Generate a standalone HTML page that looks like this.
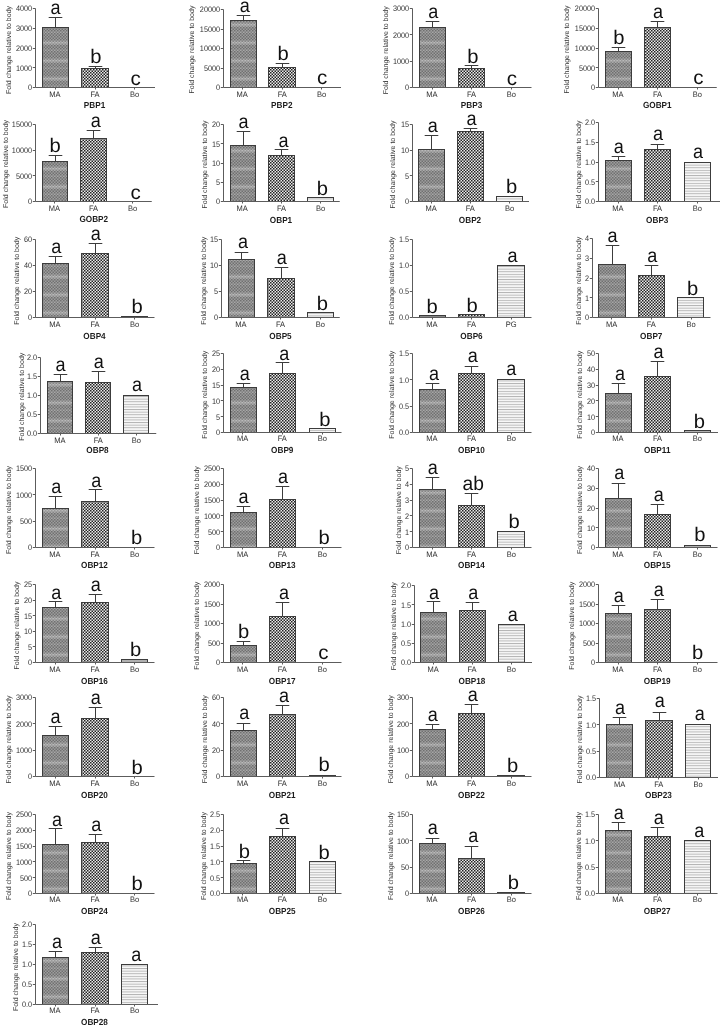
<!DOCTYPE html>
<html lang="en"><head><meta charset="utf-8"><title>OBP expression</title>
<style>html,body{margin:0;padding:0;background:#fff}svg{display:block}text{font-family:"Liberation Sans",Arial,Helvetica,sans-serif;text-rendering:geometricPrecision}.t{font-size:8.0px;fill:#303030;text-anchor:end}.x{font-size:7.9px;fill:#303030;text-anchor:middle}.n{font-size:8.8px;fill:#1c1c1c;text-anchor:middle;font-weight:bold}.y{font-size:7.0px;fill:#303030;text-anchor:middle}.L{font-size:19.6px;fill:#111;text-anchor:middle}.a{stroke:#5c5c5c;stroke-width:1;fill:none}.e{stroke:#3c3c3c;stroke-width:1;fill:none}.m{fill:url(#pm);stroke:#3c3c3c;stroke-width:1}.f{fill:url(#pf);stroke:#3c3c3c;stroke-width:1}.b{fill:url(#pb);stroke:#3c3c3c;stroke-width:1}</style></head><body>
<svg width="724" height="1027" viewBox="0 0 724 1027">
<defs><pattern id="pm" width="3" height="18" patternUnits="userSpaceOnUse"><rect width="3" height="18" fill="#9e9e9e"/><rect x="0.0" y="0.0" width="1.5" height="1.5" fill="#707070"/><rect x="1.5" y="1.5" width="1.5" height="1.5" fill="#707070"/><rect x="0.0" y="3.0" width="1.5" height="1.5" fill="#707070"/><rect x="1.5" y="4.5" width="1.5" height="1.5" fill="#707070"/><rect x="0.0" y="6.0" width="1.5" height="1.5" fill="#707070"/><rect x="1.5" y="7.5" width="1.5" height="1.5" fill="#707070"/><rect x="0.0" y="9.0" width="1.5" height="1.5" fill="#707070"/><rect x="1.5" y="10.5" width="1.5" height="1.5" fill="#707070"/><rect x="0.0" y="12.0" width="1.5" height="1.5" fill="#707070"/><rect x="1.5" y="13.5" width="1.5" height="1.5" fill="#707070"/><rect x="0.0" y="15.0" width="1.5" height="1.5" fill="#707070"/><rect x="1.5" y="16.5" width="1.5" height="1.5" fill="#707070"/><rect y="4.5" width="3" height="1.5" fill="#fff" opacity=".15"/><rect y="6" width="3" height="1.5" fill="#fff" opacity=".3"/><rect y="7.5" width="3" height="1.5" fill="#fff" opacity=".15"/><rect y="13.5" width="3" height="1.5" fill="#fff" opacity=".1"/></pattern><pattern id="pf" width="3" height="3" patternUnits="userSpaceOnUse"><rect width="3" height="3" fill="#ebebeb"/><rect width="1.5" height="1.5" fill="#222"/><rect x="1.5" y="1.5" width="1.5" height="1.5" fill="#222"/></pattern><pattern id="pb" width="2.6" height="2.6" patternUnits="userSpaceOnUse"><rect width="2.6" height="2.6" fill="#fff"/><rect y="0.8" width="2.6" height="1.1" fill="#b6b6b6"/></pattern></defs>
<rect width="724" height="1027" fill="#fff"/>
<g>
<path class="e" d="M55.5 27.5V17.5M48.7 17.5H62.3"/>
<rect class="m" x="42.5" y="27.5" width="26" height="60"/>
<path class="e" d="M95.5 68.5V66.5M88.7 66.5H102.3"/>
<rect class="f" x="81.5" y="68.5" width="27" height="19"/>
<path class="a" d="M35.5 8.5V87.5H155M32.8 8.5H35.5M32.8 28.5H35.5M32.8 48.5H35.5M32.8 67.5H35.5M32.8 87.5H35.5M55.5 87.5V89.5M95.5 87.5V89.5M134.5 87.5V89.5"/>
<text class="t" transform="translate(32.1 11.35) scale(0.91 1)">4000</text>
<text class="t" transform="translate(32.1 31.1) scale(0.91 1)">3000</text>
<text class="t" transform="translate(32.1 50.85) scale(0.91 1)">2000</text>
<text class="t" transform="translate(32.1 70.6) scale(0.91 1)">1000</text>
<text class="t" transform="translate(32.1 90.35) scale(0.91 1)">0</text>
<text class="x" transform="translate(55 96.95) scale(0.955 1)">MA</text>
<text class="x" transform="translate(95 96.95) scale(0.955 1)">FA</text>
<text class="x" transform="translate(134.5 96.95) scale(0.955 1)">Bo</text>
<text class="n" transform="translate(94.5 108.3) scale(0.93 1)">PBP1</text>
<text class="y" transform="translate(10.85 49.95) rotate(-90)">Fold change relative to body</text>
<text class="L" transform="translate(55.5 14) scale(0.92 1)">a</text>
<text class="L" transform="translate(95.75 63.25) scale(1.03 1)">b</text>
<text class="L" transform="translate(135.75 84.5) scale(1.05 1)">c</text>
</g>
<g>
<path class="e" d="M243.5 20.5V15.5M236.7 15.5H250.3"/>
<rect class="m" x="230.5" y="20.5" width="26" height="67"/>
<path class="e" d="M282.5 67.5V63.5M275.7 63.5H289.3"/>
<rect class="f" x="268.5" y="67.5" width="27" height="20"/>
<path class="a" d="M223.5 9.5V87.5H341M220.8 9.5H223.5M220.8 29.5H223.5M220.8 48.5H223.5M220.8 68.5H223.5M220.8 87.5H223.5M242.5 87.5V89.5M282.5 87.5V89.5M321.5 87.5V89.5"/>
<text class="t" transform="translate(220.1 12.35) scale(0.91 1)">20000</text>
<text class="t" transform="translate(220.1 31.85) scale(0.91 1)">15000</text>
<text class="t" transform="translate(220.1 51.35) scale(0.91 1)">10000</text>
<text class="t" transform="translate(220.1 70.85) scale(0.91 1)">5000</text>
<text class="t" transform="translate(220.1 90.35) scale(0.91 1)">0</text>
<text class="x" transform="translate(242.25 96.95) scale(0.955 1)">MA</text>
<text class="x" transform="translate(282.25 96.95) scale(0.955 1)">FA</text>
<text class="x" transform="translate(321.5 96.95) scale(0.955 1)">Bo</text>
<text class="n" transform="translate(281.75 108.3) scale(0.93 1)">PBP2</text>
<text class="y" transform="translate(194.35 49.6) rotate(-90)">Fold change relative to body</text>
<text class="L" transform="translate(244.75 11.5) scale(0.92 1)">a</text>
<text class="L" transform="translate(283 60.25) scale(1.03 1)">b</text>
<text class="L" transform="translate(322.25 84) scale(1.05 1)">c</text>
</g>
<g>
<path class="e" d="M432.5 27.5V21.5M425.7 21.5H439.3"/>
<rect class="m" x="419.5" y="27.5" width="26" height="60"/>
<path class="e" d="M471.5 68.5V65.5M464.7 65.5H478.3"/>
<rect class="f" x="458.5" y="68.5" width="26" height="19"/>
<path class="a" d="M412.5 8.5V87.5H531.5M409.8 8.5H412.5M409.8 34.5H412.5M409.8 61.5H412.5M409.8 87.5H412.5M432.5 87.5V89.5M471.5 87.5V89.5M511.5 87.5V89.5"/>
<text class="t" transform="translate(409.1 11.35) scale(0.91 1)">3000</text>
<text class="t" transform="translate(409.1 37.68) scale(0.91 1)">2000</text>
<text class="t" transform="translate(409.1 64.02) scale(0.91 1)">1000</text>
<text class="t" transform="translate(409.1 90.35) scale(0.91 1)">0</text>
<text class="x" transform="translate(432 96.95) scale(0.955 1)">MA</text>
<text class="x" transform="translate(471.5 96.95) scale(0.955 1)">FA</text>
<text class="x" transform="translate(511.25 96.95) scale(0.955 1)">Bo</text>
<text class="n" transform="translate(471.5 108.3) scale(0.93 1)">PBP3</text>
<text class="y" transform="translate(387.85 50.3) rotate(-90)">Fold change relative to body</text>
<text class="L" transform="translate(433.25 17.75) scale(0.92 1)">a</text>
<text class="L" transform="translate(472.75 62.75) scale(1.03 1)">b</text>
<text class="L" transform="translate(512 84.5) scale(1.05 1)">c</text>
</g>
<g>
<path class="e" d="M618.5 51.5V47.5M611.7 47.5H625.3"/>
<rect class="m" x="605.5" y="51.5" width="26" height="36"/>
<path class="e" d="M657.5 27.5V21.5M650.7 21.5H664.3"/>
<rect class="f" x="644.5" y="27.5" width="26" height="60"/>
<path class="a" d="M598.5 8.5V87.5H716.75M595.8 8.5H598.5M595.8 28.5H598.5M595.8 48.5H598.5M595.8 67.5H598.5M595.8 87.5H598.5M618.5 87.5V89.5M657.5 87.5V89.5M697.5 87.5V89.5"/>
<text class="t" transform="translate(595.1 11.35) scale(0.91 1)">20000</text>
<text class="t" transform="translate(595.1 31.1) scale(0.91 1)">15000</text>
<text class="t" transform="translate(595.1 50.85) scale(0.91 1)">10000</text>
<text class="t" transform="translate(595.1 70.6) scale(0.91 1)">5000</text>
<text class="t" transform="translate(595.1 90.35) scale(0.91 1)">0</text>
<text class="x" transform="translate(618 96.95) scale(0.955 1)">MA</text>
<text class="x" transform="translate(657.5 96.95) scale(0.955 1)">FA</text>
<text class="x" transform="translate(697.25 96.95) scale(0.955 1)">Bo</text>
<text class="n" transform="translate(657.25 108.3) scale(0.93 1)">GOBP1</text>
<text class="y" transform="translate(569.35 49.6) rotate(-90)">Fold change relative to body</text>
<text class="L" transform="translate(618.75 44) scale(1.03 1)">b</text>
<text class="L" transform="translate(658 18.25) scale(0.92 1)">a</text>
<text class="L" transform="translate(698.5 84) scale(1.05 1)">c</text>
</g>
<g>
<path class="e" d="M55.5 161.5V155.5M48.7 155.5H62.3"/>
<rect class="m" x="42.5" y="161.5" width="25" height="40"/>
<path class="e" d="M93.5 138.5V130.5M86.7 130.5H100.3"/>
<rect class="f" x="80.5" y="138.5" width="26" height="63"/>
<path class="a" d="M35.5 124.5V201.5H151.75M32.8 124.5H35.5M32.8 150.5H35.5M32.8 175.5H35.5M32.8 201.5H35.5M54.5 201.5V203.5M93.5 201.5V203.5M132.5 201.5V203.5"/>
<text class="t" transform="translate(32.1 127.35) scale(0.91 1)">15000</text>
<text class="t" transform="translate(32.1 153.02) scale(0.91 1)">10000</text>
<text class="t" transform="translate(32.1 178.68) scale(0.91 1)">5000</text>
<text class="t" transform="translate(32.1 204.35) scale(0.91 1)">0</text>
<text class="x" transform="translate(54.5 210.7) scale(0.955 1)">MA</text>
<text class="x" transform="translate(93.5 210.7) scale(0.955 1)">FA</text>
<text class="x" transform="translate(132.5 210.7) scale(0.955 1)">Bo</text>
<text class="n" transform="translate(93.75 222.3) scale(0.93 1)">GOBP2</text>
<text class="y" transform="translate(7.6 163.95) rotate(-90)">Fold change relative to body</text>
<text class="L" transform="translate(55 152) scale(1.03 1)">b</text>
<text class="L" transform="translate(95.75 127) scale(0.92 1)">a</text>
<text class="L" transform="translate(135.75 199) scale(1.05 1)">c</text>
</g>
<g>
<path class="e" d="M243.5 145.5V131.5M236.7 131.5H250.3"/>
<rect class="m" x="230.5" y="145.5" width="25" height="56"/>
<path class="e" d="M281.5 155.5V149.5M274.7 149.5H288.3"/>
<rect class="f" x="268.5" y="155.5" width="26" height="46"/>
<rect class="b" x="307.5" y="197.5" width="26" height="4"/>
<path class="a" d="M223.5 124.5V201.5H339.75M220.8 124.5H223.5M220.8 143.5H223.5M220.8 163.5H223.5M220.8 182.5H223.5M220.8 201.5H223.5M242.5 201.5V203.5M281.5 201.5V203.5M320.5 201.5V203.5"/>
<text class="t" transform="translate(220.1 127.35) scale(0.91 1)">20</text>
<text class="t" transform="translate(220.1 146.6) scale(0.91 1)">15</text>
<text class="t" transform="translate(220.1 165.85) scale(0.91 1)">10</text>
<text class="t" transform="translate(220.1 185.1) scale(0.91 1)">5</text>
<text class="t" transform="translate(220.1 204.35) scale(0.91 1)">0</text>
<text class="x" transform="translate(242.25 210.95) scale(0.955 1)">MA</text>
<text class="x" transform="translate(281.5 210.95) scale(0.955 1)">FA</text>
<text class="x" transform="translate(320.5 210.95) scale(0.955 1)">Bo</text>
<text class="n" transform="translate(281 222.8) scale(0.93 1)">OBP1</text>
<text class="y" transform="translate(206.85 164.6) rotate(-90)">Fold change relative to body</text>
<text class="L" transform="translate(243.5 127.75) scale(0.92 1)">a</text>
<text class="L" transform="translate(283.5 146.5) scale(0.92 1)">a</text>
<text class="L" transform="translate(322.25 195.25) scale(1.03 1)">b</text>
</g>
<g>
<path class="e" d="M431.5 149.5V135.5M424.7 135.5H438.3"/>
<rect class="m" x="418.5" y="149.5" width="26" height="52"/>
<path class="e" d="M470.5 131.5V128.5M463.7 128.5H477.3"/>
<rect class="f" x="457.5" y="131.5" width="26" height="70"/>
<rect class="b" x="496.5" y="196.5" width="26" height="5"/>
<path class="a" d="M412.5 124.5V201.5H529M409.8 124.5H412.5M409.8 150.5H412.5M409.8 175.5H412.5M409.8 201.5H412.5M431.5 201.5V203.5M470.5 201.5V203.5M509.5 201.5V203.5"/>
<text class="t" transform="translate(409.1 127.35) scale(0.91 1)">15</text>
<text class="t" transform="translate(409.1 153.02) scale(0.91 1)">10</text>
<text class="t" transform="translate(409.1 178.68) scale(0.91 1)">5</text>
<text class="t" transform="translate(409.1 204.35) scale(0.91 1)">0</text>
<text class="x" transform="translate(431.25 210.95) scale(0.955 1)">MA</text>
<text class="x" transform="translate(470.25 210.95) scale(0.955 1)">FA</text>
<text class="x" transform="translate(509.5 210.95) scale(0.955 1)">Bo</text>
<text class="n" transform="translate(470 222.8) scale(0.93 1)">OBP2</text>
<text class="y" transform="translate(395.35 164.6) rotate(-90)">Fold change relative to body</text>
<text class="L" transform="translate(432.75 132) scale(0.92 1)">a</text>
<text class="L" transform="translate(471.5 125.25) scale(0.92 1)">a</text>
<text class="L" transform="translate(511.5 193.25) scale(1.03 1)">b</text>
</g>
<g>
<path class="e" d="M618.5 160.5V156.5M611.7 156.5H625.3"/>
<rect class="m" x="605.5" y="160.5" width="26" height="41"/>
<path class="e" d="M657.5 149.5V144.5M650.7 144.5H664.3"/>
<rect class="f" x="644.5" y="149.5" width="26" height="52"/>
<rect class="b" x="684.5" y="162.5" width="26" height="39"/>
<path class="a" d="M598.5 122.5V201.5H720M595.8 122.5H598.5M595.8 142.5H598.5M595.8 162.5H598.5M595.8 181.5H598.5M595.8 201.5H598.5M618.5 201.5V203.5M657.5 201.5V203.5M697.5 201.5V203.5"/>
<text class="t" transform="translate(595.1 125.35) scale(0.91 1)">2.0</text>
<text class="t" transform="translate(595.1 145.1) scale(0.91 1)">1.5</text>
<text class="t" transform="translate(595.1 164.85) scale(0.91 1)">1.0</text>
<text class="t" transform="translate(595.1 184.6) scale(0.91 1)">0.5</text>
<text class="t" transform="translate(595.1 204.35) scale(0.91 1)">0.0</text>
<text class="x" transform="translate(618 210.7) scale(0.955 1)">MA</text>
<text class="x" transform="translate(657.5 210.7) scale(0.955 1)">FA</text>
<text class="x" transform="translate(697.25 210.7) scale(0.955 1)">Bo</text>
<text class="n" transform="translate(657.25 222.8) scale(0.93 1)">OBP3</text>
<text class="y" transform="translate(580.6 164.6) rotate(-90)">Fold change relative to body</text>
<text class="L" transform="translate(618.75 153.25) scale(0.92 1)">a</text>
<text class="L" transform="translate(658 140.25) scale(0.92 1)">a</text>
<text class="L" transform="translate(698 158.25) scale(0.92 1)">a</text>
</g>
<g>
<path class="e" d="M55.5 263.5V256.5M48.7 256.5H62.3"/>
<rect class="m" x="42.5" y="263.5" width="26" height="54"/>
<path class="e" d="M95.5 253.5V243.5M88.7 243.5H102.3"/>
<rect class="f" x="81.5" y="253.5" width="27" height="64"/>
<rect class="b" style="fill:#b0b0b0" x="121.5" y="316.5" width="26" height="1"/>
<path class="a" d="M35.5 239.5V317.5H154.5M32.8 239.5H35.5M32.8 265.5H35.5M32.8 291.5H35.5M32.8 317.5H35.5M55.5 317.5V319.5M95.5 317.5V319.5M134.5 317.5V319.5"/>
<text class="t" transform="translate(32.1 242.35) scale(0.91 1)">60</text>
<text class="t" transform="translate(32.1 268.35) scale(0.91 1)">40</text>
<text class="t" transform="translate(32.1 294.35) scale(0.91 1)">20</text>
<text class="t" transform="translate(32.1 320.35) scale(0.91 1)">0</text>
<text class="x" transform="translate(55 326.95) scale(0.955 1)">MA</text>
<text class="x" transform="translate(95 326.95) scale(0.955 1)">FA</text>
<text class="x" transform="translate(134.5 326.95) scale(0.955 1)">Bo</text>
<text class="n" transform="translate(94.5 338.8) scale(0.93 1)">OBP4</text>
<text class="y" transform="translate(19.1 280.8) rotate(-90)">Fold change relative to body</text>
<text class="L" transform="translate(56.25 252.75) scale(0.92 1)">a</text>
<text class="L" transform="translate(95.75 239.5) scale(0.92 1)">a</text>
<text class="L" transform="translate(137 313.25) scale(1.03 1)">b</text>
</g>
<g>
<path class="e" d="M241.5 259.5V252.5M234.7 252.5H248.3"/>
<rect class="m" x="228.5" y="259.5" width="26" height="58"/>
<path class="e" d="M281.5 278.5V267.5M274.7 267.5H288.3"/>
<rect class="f" x="267.5" y="278.5" width="27" height="39"/>
<rect class="b" x="307.5" y="312.5" width="26" height="5"/>
<path class="a" d="M221.5 239.5V317.5H339.75M218.8 239.5H221.5M218.8 265.5H221.5M218.8 291.5H221.5M218.8 317.5H221.5M241.5 317.5V319.5M280.5 317.5V319.5M320.5 317.5V319.5"/>
<text class="t" transform="translate(218.1 242.35) scale(0.91 1)">15</text>
<text class="t" transform="translate(218.1 268.35) scale(0.91 1)">10</text>
<text class="t" transform="translate(218.1 294.35) scale(0.91 1)">5</text>
<text class="t" transform="translate(218.1 320.35) scale(0.91 1)">0</text>
<text class="x" transform="translate(241 326.95) scale(0.955 1)">MA</text>
<text class="x" transform="translate(280.5 326.95) scale(0.955 1)">FA</text>
<text class="x" transform="translate(320.25 326.95) scale(0.955 1)">Bo</text>
<text class="n" transform="translate(280.5 338.8) scale(0.93 1)">OBP5</text>
<text class="y" transform="translate(205.6 280.8) rotate(-90)">Fold change relative to body</text>
<text class="L" transform="translate(243 248.25) scale(0.92 1)">a</text>
<text class="L" transform="translate(281.75 263.75) scale(0.92 1)">a</text>
<text class="L" transform="translate(322.25 309.5) scale(1.03 1)">b</text>
</g>
<g>
<path class="e" d="M432.5 315.5V315.5M425.7 315.5H439.3"/>
<rect class="m" x="419.5" y="315.5" width="26" height="2"/>
<path class="e" d="M471.5 314.5V314.5M464.7 314.5H478.3"/>
<rect class="f" x="458.5" y="314.5" width="26" height="3"/>
<rect class="b" x="497.5" y="265.5" width="27" height="52"/>
<path class="a" d="M412.5 239.5V317.5H531.5M409.8 239.5H412.5M409.8 265.5H412.5M409.8 291.5H412.5M409.8 317.5H412.5M432.5 317.5V319.5M471.5 317.5V319.5M511.5 317.5V319.5"/>
<text class="t" transform="translate(409.1 242.35) scale(0.91 1)">1.5</text>
<text class="t" transform="translate(409.1 268.35) scale(0.91 1)">1.0</text>
<text class="t" transform="translate(409.1 294.35) scale(0.91 1)">0.5</text>
<text class="t" transform="translate(409.1 320.35) scale(0.91 1)">0.0</text>
<text class="x" transform="translate(432 326.95) scale(0.955 1)">MA</text>
<text class="x" transform="translate(471.5 326.95) scale(0.955 1)">FA</text>
<text class="x" transform="translate(511.25 326.95) scale(0.955 1)">PG</text>
<text class="n" transform="translate(471.5 338.8) scale(0.93 1)">OBP6</text>
<text class="y" transform="translate(394.1 280.8) rotate(-90)">Fold change relative to body</text>
<text class="L" transform="translate(432 312.75) scale(1.03 1)">b</text>
<text class="L" transform="translate(472 312) scale(1.03 1)">b</text>
<text class="L" transform="translate(512.5 262) scale(0.92 1)">a</text>
</g>
<g>
<path class="e" d="M612.5 264.5V245.5M605.7 245.5H619.3"/>
<rect class="m" x="598.5" y="264.5" width="27" height="53"/>
<path class="e" d="M651.5 275.5V265.5M644.7 265.5H658.3"/>
<rect class="f" x="638.5" y="275.5" width="26" height="42"/>
<rect class="b" x="677.5" y="297.5" width="26" height="20"/>
<path class="a" d="M592.5 238.5V317.5H710.5M589.8 238.5H592.5M589.8 258.5H592.5M589.8 278.5H592.5M589.8 297.5H592.5M589.8 317.5H592.5M611.5 317.5V319.5M651.5 317.5V319.5M691.5 317.5V319.5"/>
<text class="t" transform="translate(589.1 241.35) scale(0.91 1)">4</text>
<text class="t" transform="translate(589.1 261.1) scale(0.91 1)">3</text>
<text class="t" transform="translate(589.1 280.85) scale(0.91 1)">2</text>
<text class="t" transform="translate(589.1 300.6) scale(0.91 1)">1</text>
<text class="t" transform="translate(589.1 320.35) scale(0.91 1)">0</text>
<text class="x" transform="translate(611.75 326.95) scale(0.955 1)">MA</text>
<text class="x" transform="translate(651.25 326.95) scale(0.955 1)">FA</text>
<text class="x" transform="translate(691 326.95) scale(0.955 1)">Bo</text>
<text class="n" transform="translate(651.25 338.8) scale(0.93 1)">OBP7</text>
<text class="y" transform="translate(580.6 280.8) rotate(-90)">Fold change relative to body</text>
<text class="L" transform="translate(612.5 242) scale(0.92 1)">a</text>
<text class="L" transform="translate(652.25 262) scale(0.92 1)">a</text>
<text class="L" transform="translate(692.5 294.5) scale(1.03 1)">b</text>
</g>
<g>
<path class="e" d="M60.5 381.5V374.5M53.7 374.5H67.3"/>
<rect class="m" x="47.5" y="381.5" width="25" height="52"/>
<path class="e" d="M98.5 382.5V371.5M91.7 371.5H105.3"/>
<rect class="f" x="85.5" y="382.5" width="25" height="51"/>
<rect class="b" x="123.5" y="395.5" width="25" height="38"/>
<path class="a" d="M40.5 357.5V433.5H156.25M37.8 357.5H40.5M37.8 376.5H40.5M37.8 395.5H40.5M37.8 414.5H40.5M37.8 433.5H40.5M60.5 433.5V435.5M98.5 433.5V435.5M136.5 433.5V435.5"/>
<text class="t" transform="translate(37.1 360.35) scale(0.91 1)">2.0</text>
<text class="t" transform="translate(37.1 379.35) scale(0.91 1)">1.5</text>
<text class="t" transform="translate(37.1 398.35) scale(0.91 1)">1.0</text>
<text class="t" transform="translate(37.1 417.35) scale(0.91 1)">0.5</text>
<text class="t" transform="translate(37.1 436.35) scale(0.91 1)">0.0</text>
<text class="x" transform="translate(60 442.7) scale(0.955 1)">MA</text>
<text class="x" transform="translate(98.25 442.7) scale(0.955 1)">FA</text>
<text class="x" transform="translate(136.25 442.7) scale(0.955 1)">Bo</text>
<text class="n" transform="translate(97.5 453.3) scale(0.93 1)">OBP8</text>
<text class="y" transform="translate(24.1 396.7) rotate(-90)">Fold change relative to body</text>
<text class="L" transform="translate(60.5 370.75) scale(0.92 1)">a</text>
<text class="L" transform="translate(98.75 368.25) scale(0.92 1)">a</text>
<text class="L" transform="translate(137 391.25) scale(0.92 1)">a</text>
</g>
<g>
<path class="e" d="M243.5 387.5V383.5M236.7 383.5H250.3"/>
<rect class="m" x="230.5" y="387.5" width="26" height="45"/>
<path class="e" d="M282.5 373.5V362.5M275.7 362.5H289.3"/>
<rect class="f" x="269.5" y="373.5" width="26" height="59"/>
<rect class="b" x="309.5" y="428.5" width="26" height="4"/>
<path class="a" d="M223.5 353.5V432.5H341.5M220.8 353.5H223.5M220.8 369.5H223.5M220.8 385.5H223.5M220.8 400.5H223.5M220.8 416.5H223.5M220.8 432.5H223.5M242.5 432.5V434.5M282.5 432.5V434.5M322.5 432.5V434.5"/>
<text class="t" transform="translate(220.1 356.35) scale(0.91 1)">25</text>
<text class="t" transform="translate(220.1 372.15) scale(0.91 1)">20</text>
<text class="t" transform="translate(220.1 387.95) scale(0.91 1)">15</text>
<text class="t" transform="translate(220.1 403.75) scale(0.91 1)">10</text>
<text class="t" transform="translate(220.1 419.55) scale(0.91 1)">5</text>
<text class="t" transform="translate(220.1 435.35) scale(0.91 1)">0</text>
<text class="x" transform="translate(242.75 441.45) scale(0.955 1)">MA</text>
<text class="x" transform="translate(282.25 441.45) scale(0.955 1)">FA</text>
<text class="x" transform="translate(322.25 441.45) scale(0.955 1)">Bo</text>
<text class="n" transform="translate(282.25 452.8) scale(0.93 1)">OBP9</text>
<text class="y" transform="translate(206.85 394.8) rotate(-90)">Fold change relative to body</text>
<text class="L" transform="translate(244.75 380.25) scale(0.92 1)">a</text>
<text class="L" transform="translate(284.25 359.5) scale(0.92 1)">a</text>
<text class="L" transform="translate(324.75 425.75) scale(1.03 1)">b</text>
</g>
<g>
<path class="e" d="M432.5 389.5V383.5M425.7 383.5H439.3"/>
<rect class="m" x="419.5" y="389.5" width="26" height="43"/>
<path class="e" d="M471.5 373.5V366.5M464.7 366.5H478.3"/>
<rect class="f" x="458.5" y="373.5" width="26" height="59"/>
<rect class="b" x="497.5" y="379.5" width="27" height="53"/>
<path class="a" d="M412.5 353.5V432.5H531.5M409.8 353.5H412.5M409.8 379.5H412.5M409.8 406.5H412.5M409.8 432.5H412.5M432.5 432.5V434.5M471.5 432.5V434.5M511.5 432.5V434.5"/>
<text class="t" transform="translate(409.1 356.35) scale(0.91 1)">1.5</text>
<text class="t" transform="translate(409.1 382.68) scale(0.91 1)">1.0</text>
<text class="t" transform="translate(409.1 409.02) scale(0.91 1)">0.5</text>
<text class="t" transform="translate(409.1 435.35) scale(0.91 1)">0.0</text>
<text class="x" transform="translate(432 441.45) scale(0.955 1)">MA</text>
<text class="x" transform="translate(471.5 441.45) scale(0.955 1)">FA</text>
<text class="x" transform="translate(511.25 441.45) scale(0.955 1)">Bo</text>
<text class="n" transform="translate(471.5 452.8) scale(0.93 1)">OBP10</text>
<text class="y" transform="translate(394.1 394.8) rotate(-90)">Fold change relative to body</text>
<text class="L" transform="translate(434 379.5) scale(0.92 1)">a</text>
<text class="L" transform="translate(472.75 362) scale(0.92 1)">a</text>
<text class="L" transform="translate(511.25 375.25) scale(0.92 1)">a</text>
</g>
<g>
<path class="e" d="M618.5 393.5V383.5M611.7 383.5H625.3"/>
<rect class="m" x="605.5" y="393.5" width="26" height="39"/>
<path class="e" d="M657.5 376.5V361.5M650.7 361.5H664.3"/>
<rect class="f" x="644.5" y="376.5" width="26" height="56"/>
<rect class="b" style="fill:#b0b0b0" x="684.5" y="430.5" width="26" height="2"/>
<path class="a" d="M598.5 353.5V432.5H718M595.8 353.5H598.5M595.8 369.5H598.5M595.8 385.5H598.5M595.8 400.5H598.5M595.8 416.5H598.5M595.8 432.5H598.5M618.5 432.5V434.5M657.5 432.5V434.5M697.5 432.5V434.5"/>
<text class="t" transform="translate(595.1 356.35) scale(0.91 1)">50</text>
<text class="t" transform="translate(595.1 372.15) scale(0.91 1)">40</text>
<text class="t" transform="translate(595.1 387.95) scale(0.91 1)">30</text>
<text class="t" transform="translate(595.1 403.75) scale(0.91 1)">20</text>
<text class="t" transform="translate(595.1 419.55) scale(0.91 1)">10</text>
<text class="t" transform="translate(595.1 435.35) scale(0.91 1)">0</text>
<text class="x" transform="translate(618 441.45) scale(0.955 1)">MA</text>
<text class="x" transform="translate(657.5 441.45) scale(0.955 1)">FA</text>
<text class="x" transform="translate(697.25 441.45) scale(0.955 1)">Bo</text>
<text class="n" transform="translate(657.25 452.8) scale(0.93 1)">OBP11</text>
<text class="y" transform="translate(582.1 394.8) rotate(-90)">Fold change relative to body</text>
<text class="L" transform="translate(620 380.25) scale(0.92 1)">a</text>
<text class="L" transform="translate(658.5 358.25) scale(0.92 1)">a</text>
<text class="L" transform="translate(699.25 427.5) scale(1.03 1)">b</text>
</g>
<g>
<path class="e" d="M55.5 508.5V496.5M48.7 496.5H62.3"/>
<rect class="m" x="42.5" y="508.5" width="26" height="39"/>
<path class="e" d="M95.5 501.5V489.5M88.7 489.5H102.3"/>
<rect class="f" x="81.5" y="501.5" width="27" height="46"/>
<path class="a" d="M35.5 468.5V547.5H154.5M32.8 468.5H35.5M32.8 494.5H35.5M32.8 521.5H35.5M32.8 547.5H35.5M55.5 547.5V549.5M95.5 547.5V549.5M134.5 547.5V549.5"/>
<text class="t" transform="translate(32.1 471.35) scale(0.91 1)">1500</text>
<text class="t" transform="translate(32.1 497.68) scale(0.91 1)">1000</text>
<text class="t" transform="translate(32.1 524.02) scale(0.91 1)">500</text>
<text class="t" transform="translate(32.1 550.35) scale(0.91 1)">0</text>
<text class="x" transform="translate(55 556.7) scale(0.955 1)">MA</text>
<text class="x" transform="translate(95 556.7) scale(0.955 1)">FA</text>
<text class="x" transform="translate(134.5 556.7) scale(0.955 1)">Bo</text>
<text class="n" transform="translate(94.5 568.3) scale(0.93 1)">OBP12</text>
<text class="y" transform="translate(10.85 509.95) rotate(-90)">Fold change relative to body</text>
<text class="L" transform="translate(56.25 493.25) scale(0.92 1)">a</text>
<text class="L" transform="translate(96.25 486.75) scale(0.92 1)">a</text>
<text class="L" transform="translate(136.5 543.75) scale(1.03 1)">b</text>
</g>
<g>
<path class="e" d="M243.5 512.5V506.5M236.7 506.5H250.3"/>
<rect class="m" x="230.5" y="512.5" width="26" height="35"/>
<path class="e" d="M282.5 499.5V486.5M275.7 486.5H289.3"/>
<rect class="f" x="269.5" y="499.5" width="26" height="48"/>
<path class="a" d="M223.5 468.5V547.5H341.5M220.8 468.5H223.5M220.8 484.5H223.5M220.8 500.5H223.5M220.8 515.5H223.5M220.8 531.5H223.5M220.8 547.5H223.5M242.5 547.5V549.5M282.5 547.5V549.5M322.5 547.5V549.5"/>
<text class="t" transform="translate(220.1 471.35) scale(0.91 1)">2500</text>
<text class="t" transform="translate(220.1 487.15) scale(0.91 1)">2000</text>
<text class="t" transform="translate(220.1 502.95) scale(0.91 1)">1500</text>
<text class="t" transform="translate(220.1 518.75) scale(0.91 1)">1000</text>
<text class="t" transform="translate(220.1 534.55) scale(0.91 1)">500</text>
<text class="t" transform="translate(220.1 550.35) scale(0.91 1)">0</text>
<text class="x" transform="translate(242.75 556.7) scale(0.955 1)">MA</text>
<text class="x" transform="translate(282.25 556.7) scale(0.955 1)">FA</text>
<text class="x" transform="translate(322.25 556.7) scale(0.955 1)">Bo</text>
<text class="n" transform="translate(282.25 568.3) scale(0.93 1)">OBP13</text>
<text class="y" transform="translate(198.6 510.2) rotate(-90)">Fold change relative to body</text>
<text class="L" transform="translate(243.5 503.25) scale(0.92 1)">a</text>
<text class="L" transform="translate(283 483.25) scale(0.92 1)">a</text>
<text class="L" transform="translate(324 543.75) scale(1.03 1)">b</text>
</g>
<g>
<path class="e" d="M432.5 489.5V477.5M425.7 477.5H439.3"/>
<rect class="m" x="419.5" y="489.5" width="26" height="58"/>
<path class="e" d="M471.5 505.5V493.5M464.7 493.5H478.3"/>
<rect class="f" x="458.5" y="505.5" width="26" height="42"/>
<rect class="b" x="497.5" y="531.5" width="27" height="16"/>
<path class="a" d="M412.5 468.5V547.5H531.5M409.8 468.5H412.5M409.8 484.5H412.5M409.8 500.5H412.5M409.8 515.5H412.5M409.8 531.5H412.5M409.8 547.5H412.5M432.5 547.5V549.5M471.5 547.5V549.5M511.5 547.5V549.5"/>
<text class="t" transform="translate(409.1 471.35) scale(0.91 1)">5</text>
<text class="t" transform="translate(409.1 487.15) scale(0.91 1)">4</text>
<text class="t" transform="translate(409.1 502.95) scale(0.91 1)">3</text>
<text class="t" transform="translate(409.1 518.75) scale(0.91 1)">2</text>
<text class="t" transform="translate(409.1 534.55) scale(0.91 1)">1</text>
<text class="t" transform="translate(409.1 550.35) scale(0.91 1)">0</text>
<text class="x" transform="translate(432 556.7) scale(0.955 1)">MA</text>
<text class="x" transform="translate(471.5 556.7) scale(0.955 1)">FA</text>
<text class="x" transform="translate(511.25 556.7) scale(0.955 1)">Bo</text>
<text class="n" transform="translate(471.5 568.3) scale(0.93 1)">OBP14</text>
<text class="y" transform="translate(401.1 510.2) rotate(-90)">Fold change relative to body</text>
<text class="L" transform="translate(432.75 473.75) scale(0.92 1)">a</text>
<text class="L" transform="translate(473.25 489.5) scale(0.98 1)">ab</text>
<text class="L" transform="translate(514 528.25) scale(1.03 1)">b</text>
</g>
<g>
<path class="e" d="M618.5 498.5V483.5M611.7 483.5H625.3"/>
<rect class="m" x="605.5" y="498.5" width="26" height="49"/>
<path class="e" d="M657.5 514.5V504.5M650.7 504.5H664.3"/>
<rect class="f" x="644.5" y="514.5" width="26" height="33"/>
<rect class="b" style="fill:#b0b0b0" x="684.5" y="545.5" width="26" height="2"/>
<path class="a" d="M598.5 468.5V547.5H717.5M595.8 468.5H598.5M595.8 488.5H598.5M595.8 508.5H598.5M595.8 527.5H598.5M595.8 547.5H598.5M618.5 547.5V549.5M657.5 547.5V549.5M697.5 547.5V549.5"/>
<text class="t" transform="translate(595.1 471.35) scale(0.91 1)">40</text>
<text class="t" transform="translate(595.1 491.1) scale(0.91 1)">30</text>
<text class="t" transform="translate(595.1 510.85) scale(0.91 1)">20</text>
<text class="t" transform="translate(595.1 530.6) scale(0.91 1)">10</text>
<text class="t" transform="translate(595.1 550.35) scale(0.91 1)">0</text>
<text class="x" transform="translate(618 556.7) scale(0.955 1)">MA</text>
<text class="x" transform="translate(657.5 556.7) scale(0.955 1)">FA</text>
<text class="x" transform="translate(697.25 556.7) scale(0.955 1)">Bo</text>
<text class="n" transform="translate(657.25 568.3) scale(0.93 1)">OBP15</text>
<text class="y" transform="translate(582.1 509.95) rotate(-90)">Fold change relative to body</text>
<text class="L" transform="translate(619.25 479.25) scale(0.92 1)">a</text>
<text class="L" transform="translate(658.75 500.5) scale(0.92 1)">a</text>
<text class="L" transform="translate(699.75 541.25) scale(1.03 1)">b</text>
</g>
<g>
<path class="e" d="M55.5 607.5V601.5M48.7 601.5H62.3"/>
<rect class="m" x="42.5" y="607.5" width="26" height="55"/>
<path class="e" d="M95.5 602.5V594.5M88.7 594.5H102.3"/>
<rect class="f" x="81.5" y="602.5" width="27" height="60"/>
<rect class="b" style="fill:#b0b0b0" x="121.5" y="659.5" width="26" height="3"/>
<path class="a" d="M35.5 584.5V662.5H154.5M32.8 584.5H35.5M32.8 600.5H35.5M32.8 615.5H35.5M32.8 631.5H35.5M32.8 646.5H35.5M32.8 662.5H35.5M55.5 662.5V664.5M95.5 662.5V664.5M134.5 662.5V664.5"/>
<text class="t" transform="translate(32.1 587.35) scale(0.91 1)">25</text>
<text class="t" transform="translate(32.1 602.95) scale(0.91 1)">20</text>
<text class="t" transform="translate(32.1 618.55) scale(0.91 1)">15</text>
<text class="t" transform="translate(32.1 634.15) scale(0.91 1)">10</text>
<text class="t" transform="translate(32.1 649.75) scale(0.91 1)">5</text>
<text class="t" transform="translate(32.1 665.35) scale(0.91 1)">0</text>
<text class="x" transform="translate(55 672.45) scale(0.955 1)">MA</text>
<text class="x" transform="translate(95 672.45) scale(0.955 1)">FA</text>
<text class="x" transform="translate(134.5 672.45) scale(0.955 1)">Bo</text>
<text class="n" transform="translate(94.5 683.8) scale(0.93 1)">OBP16</text>
<text class="y" transform="translate(19.1 625.6) rotate(-90)">Fold change relative to body</text>
<text class="L" transform="translate(56.25 599.25) scale(0.92 1)">a</text>
<text class="L" transform="translate(95.75 591.25) scale(0.92 1)">a</text>
<text class="L" transform="translate(135.5 656.25) scale(1.03 1)">b</text>
</g>
<g>
<path class="e" d="M243.5 645.5V641.5M236.7 641.5H250.3"/>
<rect class="m" x="230.5" y="645.5" width="26" height="17"/>
<path class="e" d="M282.5 616.5V602.5M275.7 602.5H289.3"/>
<rect class="f" x="269.5" y="616.5" width="26" height="46"/>
<path class="a" d="M223.5 584.5V662.5H341.5M220.8 584.5H223.5M220.8 604.5H223.5M220.8 623.5H223.5M220.8 643.5H223.5M220.8 662.5H223.5M242.5 662.5V664.5M282.5 662.5V664.5M322.5 662.5V664.5"/>
<text class="t" transform="translate(220.1 587.35) scale(0.91 1)">2000</text>
<text class="t" transform="translate(220.1 606.85) scale(0.91 1)">1500</text>
<text class="t" transform="translate(220.1 626.35) scale(0.91 1)">1000</text>
<text class="t" transform="translate(220.1 645.85) scale(0.91 1)">500</text>
<text class="t" transform="translate(220.1 665.35) scale(0.91 1)">0</text>
<text class="x" transform="translate(242.75 672.45) scale(0.955 1)">MA</text>
<text class="x" transform="translate(282.25 672.45) scale(0.955 1)">FA</text>
<text class="x" transform="translate(322.25 672.45) scale(0.955 1)">Bo</text>
<text class="n" transform="translate(282.25 683.8) scale(0.93 1)">OBP17</text>
<text class="y" transform="translate(198.6 625.8) rotate(-90)">Fold change relative to body</text>
<text class="L" transform="translate(243.5 638.25) scale(1.03 1)">b</text>
<text class="L" transform="translate(284 599.25) scale(0.92 1)">a</text>
<text class="L" transform="translate(323.5 659.25) scale(1.05 1)">c</text>
</g>
<g>
<path class="e" d="M433.5 612.5V601.5M426.7 601.5H440.3"/>
<rect class="m" x="420.5" y="612.5" width="26" height="50"/>
<path class="e" d="M472.5 610.5V602.5M465.7 602.5H479.3"/>
<rect class="f" x="459.5" y="610.5" width="26" height="52"/>
<rect class="b" x="498.5" y="624.5" width="26" height="38"/>
<path class="a" d="M414.5 585.5V662.5H532M411.8 585.5H414.5M411.8 604.5H414.5M411.8 624.5H414.5M411.8 643.5H414.5M411.8 662.5H414.5M433.5 662.5V664.5M472.5 662.5V664.5M511.5 662.5V664.5"/>
<text class="t" transform="translate(411.1 588.35) scale(0.91 1)">2.0</text>
<text class="t" transform="translate(411.1 607.6) scale(0.91 1)">1.5</text>
<text class="t" transform="translate(411.1 626.85) scale(0.91 1)">1.0</text>
<text class="t" transform="translate(411.1 646.1) scale(0.91 1)">0.5</text>
<text class="t" transform="translate(411.1 665.35) scale(0.91 1)">0.0</text>
<text class="x" transform="translate(433.25 672.45) scale(0.955 1)">MA</text>
<text class="x" transform="translate(472 672.45) scale(0.955 1)">FA</text>
<text class="x" transform="translate(511.25 672.45) scale(0.955 1)">Bo</text>
<text class="n" transform="translate(472 683.8) scale(0.93 1)">OBP18</text>
<text class="y" transform="translate(396.1 626.2) rotate(-90)">Fold change relative to body</text>
<text class="L" transform="translate(434 599.25) scale(0.92 1)">a</text>
<text class="L" transform="translate(473.25 599.25) scale(0.92 1)">a</text>
<text class="L" transform="translate(512.75 621.25) scale(0.92 1)">a</text>
</g>
<g>
<path class="e" d="M618.5 613.5V605.5M611.7 605.5H625.3"/>
<rect class="m" x="605.5" y="613.5" width="26" height="49"/>
<path class="e" d="M657.5 609.5V599.5M650.7 599.5H664.3"/>
<rect class="f" x="644.5" y="609.5" width="26" height="53"/>
<path class="a" d="M598.5 584.5V662.5H717.5M595.8 584.5H598.5M595.8 604.5H598.5M595.8 623.5H598.5M595.8 643.5H598.5M595.8 662.5H598.5M618.5 662.5V664.5M657.5 662.5V664.5M697.5 662.5V664.5"/>
<text class="t" transform="translate(595.1 587.35) scale(0.91 1)">2000</text>
<text class="t" transform="translate(595.1 606.85) scale(0.91 1)">1500</text>
<text class="t" transform="translate(595.1 626.35) scale(0.91 1)">1000</text>
<text class="t" transform="translate(595.1 645.85) scale(0.91 1)">500</text>
<text class="t" transform="translate(595.1 665.35) scale(0.91 1)">0</text>
<text class="x" transform="translate(618 672.45) scale(0.955 1)">MA</text>
<text class="x" transform="translate(657.5 672.45) scale(0.955 1)">FA</text>
<text class="x" transform="translate(697.25 672.45) scale(0.955 1)">Bo</text>
<text class="n" transform="translate(657.25 683.8) scale(0.93 1)">OBP19</text>
<text class="y" transform="translate(573.85 625.8) rotate(-90)">Fold change relative to body</text>
<text class="L" transform="translate(618.75 601.75) scale(0.92 1)">a</text>
<text class="L" transform="translate(658.75 595.75) scale(0.92 1)">a</text>
<text class="L" transform="translate(697.5 659.25) scale(1.03 1)">b</text>
</g>
<g>
<path class="e" d="M55.5 735.5V726.5M48.7 726.5H62.3"/>
<rect class="m" x="42.5" y="735.5" width="26" height="41"/>
<path class="e" d="M95.5 718.5V707.5M88.7 707.5H102.3"/>
<rect class="f" x="81.5" y="718.5" width="27" height="58"/>
<path class="a" d="M35.5 697.5V776.5H154.5M32.8 697.5H35.5M32.8 723.5H35.5M32.8 750.5H35.5M32.8 776.5H35.5M55.5 776.5V778.5M95.5 776.5V778.5M134.5 776.5V778.5"/>
<text class="t" transform="translate(32.1 700.35) scale(0.91 1)">3000</text>
<text class="t" transform="translate(32.1 726.68) scale(0.91 1)">2000</text>
<text class="t" transform="translate(32.1 753.02) scale(0.91 1)">1000</text>
<text class="t" transform="translate(32.1 779.35) scale(0.91 1)">0</text>
<text class="x" transform="translate(55 786.2) scale(0.955 1)">MA</text>
<text class="x" transform="translate(95 786.2) scale(0.955 1)">FA</text>
<text class="x" transform="translate(134.5 786.2) scale(0.955 1)">Bo</text>
<text class="n" transform="translate(94.5 797.55) scale(0.93 1)">OBP20</text>
<text class="y" transform="translate(10.85 739.6) rotate(-90)">Fold change relative to body</text>
<text class="L" transform="translate(55.5 723) scale(0.92 1)">a</text>
<text class="L" transform="translate(95.75 703.75) scale(0.92 1)">a</text>
<text class="L" transform="translate(137 774.25) scale(1.03 1)">b</text>
</g>
<g>
<path class="e" d="M243.5 730.5V723.5M236.7 723.5H250.3"/>
<rect class="m" x="230.5" y="730.5" width="26" height="46"/>
<path class="e" d="M282.5 714.5V705.5M275.7 705.5H289.3"/>
<rect class="f" x="269.5" y="714.5" width="26" height="62"/>
<rect class="b" style="fill:#b0b0b0" x="309.5" y="775.5" width="26" height="1"/>
<path class="a" d="M223.5 697.5V776.5H341.5M220.8 697.5H223.5M220.8 723.5H223.5M220.8 750.5H223.5M220.8 776.5H223.5M242.5 776.5V778.5M282.5 776.5V778.5M322.5 776.5V778.5"/>
<text class="t" transform="translate(220.1 700.35) scale(0.91 1)">60</text>
<text class="t" transform="translate(220.1 726.68) scale(0.91 1)">40</text>
<text class="t" transform="translate(220.1 753.02) scale(0.91 1)">20</text>
<text class="t" transform="translate(220.1 779.35) scale(0.91 1)">0</text>
<text class="x" transform="translate(242.75 786.2) scale(0.955 1)">MA</text>
<text class="x" transform="translate(282.25 786.2) scale(0.955 1)">FA</text>
<text class="x" transform="translate(322.25 786.2) scale(0.955 1)">Bo</text>
<text class="n" transform="translate(282.25 797.55) scale(0.93 1)">OBP21</text>
<text class="y" transform="translate(206.85 739.3) rotate(-90)">Fold change relative to body</text>
<text class="L" transform="translate(244.25 719.25) scale(0.92 1)">a</text>
<text class="L" transform="translate(284 702.25) scale(0.92 1)">a</text>
<text class="L" transform="translate(324 771.25) scale(1.03 1)">b</text>
</g>
<g>
<path class="e" d="M432.5 729.5V724.5M425.7 724.5H439.3"/>
<rect class="m" x="419.5" y="729.5" width="26" height="47"/>
<path class="e" d="M471.5 713.5V704.5M464.7 704.5H478.3"/>
<rect class="f" x="458.5" y="713.5" width="26" height="63"/>
<rect class="b" style="fill:#b0b0b0" x="497.5" y="775.5" width="27" height="1"/>
<path class="a" d="M412.5 697.5V776.5H531.5M409.8 697.5H412.5M409.8 723.5H412.5M409.8 750.5H412.5M409.8 776.5H412.5M432.5 776.5V778.5M471.5 776.5V778.5M511.5 776.5V778.5"/>
<text class="t" transform="translate(409.1 700.35) scale(0.91 1)">300</text>
<text class="t" transform="translate(409.1 726.68) scale(0.91 1)">200</text>
<text class="t" transform="translate(409.1 753.02) scale(0.91 1)">100</text>
<text class="t" transform="translate(409.1 779.35) scale(0.91 1)">0</text>
<text class="x" transform="translate(432 786.2) scale(0.955 1)">MA</text>
<text class="x" transform="translate(471.5 786.2) scale(0.955 1)">FA</text>
<text class="x" transform="translate(511.25 786.2) scale(0.955 1)">Bo</text>
<text class="n" transform="translate(471.5 797.55) scale(0.93 1)">OBP22</text>
<text class="y" transform="translate(392.85 739.3) rotate(-90)">Fold change relative to body</text>
<text class="L" transform="translate(432.75 720.5) scale(0.92 1)">a</text>
<text class="L" transform="translate(472.75 701.25) scale(0.92 1)">a</text>
<text class="L" transform="translate(512.5 771.75) scale(1.03 1)">b</text>
</g>
<g>
<path class="e" d="M619.5 724.5V717.5M612.7 717.5H626.3"/>
<rect class="m" x="606.5" y="724.5" width="26" height="53"/>
<path class="e" d="M659.5 720.5V712.5M652.7 712.5H666.3"/>
<rect class="f" x="645.5" y="720.5" width="27" height="57"/>
<rect class="b" x="685.5" y="724.5" width="25" height="53"/>
<path class="a" d="M599.5 698.5V777.5H718M596.8 698.5H599.5M596.8 724.5H599.5M596.8 751.5H599.5M596.8 777.5H599.5M619.5 777.5V779.5M658.5 777.5V779.5M698.5 777.5V779.5"/>
<text class="t" transform="translate(596.1 701.35) scale(0.91 1)">1.5</text>
<text class="t" transform="translate(596.1 727.68) scale(0.91 1)">1.0</text>
<text class="t" transform="translate(596.1 754.02) scale(0.91 1)">0.5</text>
<text class="t" transform="translate(596.1 780.35) scale(0.91 1)">0.0</text>
<text class="x" transform="translate(619.75 786.7) scale(0.955 1)">MA</text>
<text class="x" transform="translate(658.75 786.7) scale(0.955 1)">FA</text>
<text class="x" transform="translate(698 786.7) scale(0.955 1)">Bo</text>
<text class="n" transform="translate(658.5 797.55) scale(0.93 1)">OBP23</text>
<text class="y" transform="translate(582.1 739.6) rotate(-90)">Fold change relative to body</text>
<text class="L" transform="translate(620 713.75) scale(0.92 1)">a</text>
<text class="L" transform="translate(659.75 707.25) scale(0.92 1)">a</text>
<text class="L" transform="translate(699.75 720) scale(0.92 1)">a</text>
</g>
<g>
<path class="e" d="M55.5 844.5V828.5M48.7 828.5H62.3"/>
<rect class="m" x="42.5" y="844.5" width="26" height="49"/>
<path class="e" d="M95.5 842.5V834.5M88.7 834.5H102.3"/>
<rect class="f" x="81.5" y="842.5" width="27" height="51"/>
<path class="a" d="M35.5 814.5V893.5H154.5M32.8 814.5H35.5M32.8 830.5H35.5M32.8 846.5H35.5M32.8 861.5H35.5M32.8 877.5H35.5M32.8 893.5H35.5M55.5 893.5V895.5M95.5 893.5V895.5M134.5 893.5V895.5"/>
<text class="t" transform="translate(32.1 817.35) scale(0.91 1)">2500</text>
<text class="t" transform="translate(32.1 833.15) scale(0.91 1)">2000</text>
<text class="t" transform="translate(32.1 848.95) scale(0.91 1)">1500</text>
<text class="t" transform="translate(32.1 864.75) scale(0.91 1)">1000</text>
<text class="t" transform="translate(32.1 880.55) scale(0.91 1)">500</text>
<text class="t" transform="translate(32.1 896.35) scale(0.91 1)">0</text>
<text class="x" transform="translate(55 902.45) scale(0.955 1)">MA</text>
<text class="x" transform="translate(95 902.45) scale(0.955 1)">FA</text>
<text class="x" transform="translate(134.5 902.45) scale(0.955 1)">Bo</text>
<text class="n" transform="translate(94.5 914.3) scale(0.93 1)">OBP24</text>
<text class="y" transform="translate(10.85 856.1) rotate(-90)">Fold change relative to body</text>
<text class="L" transform="translate(57 825.5) scale(0.92 1)">a</text>
<text class="L" transform="translate(96.25 830.5) scale(0.92 1)">a</text>
<text class="L" transform="translate(137 889.75) scale(1.03 1)">b</text>
</g>
<g>
<path class="e" d="M243.5 863.5V860.5M236.7 860.5H250.3"/>
<rect class="m" x="230.5" y="863.5" width="26" height="30"/>
<path class="e" d="M282.5 836.5V828.5M275.7 828.5H289.3"/>
<rect class="f" x="269.5" y="836.5" width="26" height="57"/>
<rect class="b" x="309.5" y="861.5" width="26" height="32"/>
<path class="a" d="M223.5 814.5V893.5H341.5M220.8 814.5H223.5M220.8 830.5H223.5M220.8 846.5H223.5M220.8 861.5H223.5M220.8 877.5H223.5M220.8 893.5H223.5M242.5 893.5V895.5M282.5 893.5V895.5M322.5 893.5V895.5"/>
<text class="t" transform="translate(220.1 817.35) scale(0.91 1)">2.5</text>
<text class="t" transform="translate(220.1 833.15) scale(0.91 1)">2.0</text>
<text class="t" transform="translate(220.1 848.95) scale(0.91 1)">1.5</text>
<text class="t" transform="translate(220.1 864.75) scale(0.91 1)">1.0</text>
<text class="t" transform="translate(220.1 880.55) scale(0.91 1)">0.5</text>
<text class="t" transform="translate(220.1 896.35) scale(0.91 1)">0.0</text>
<text class="x" transform="translate(242.75 902.45) scale(0.955 1)">MA</text>
<text class="x" transform="translate(282.25 902.45) scale(0.955 1)">FA</text>
<text class="x" transform="translate(322.25 902.45) scale(0.955 1)">Bo</text>
<text class="n" transform="translate(282.25 914.3) scale(0.93 1)">OBP25</text>
<text class="y" transform="translate(205.6 856.1) rotate(-90)">Fold change relative to body</text>
<text class="L" transform="translate(244.25 857.5) scale(1.03 1)">b</text>
<text class="L" transform="translate(284 823.75) scale(0.92 1)">a</text>
<text class="L" transform="translate(324 858.5) scale(1.03 1)">b</text>
</g>
<g>
<path class="e" d="M432.5 843.5V838.5M425.7 838.5H439.3"/>
<rect class="m" x="419.5" y="843.5" width="26" height="50"/>
<path class="e" d="M471.5 858.5V846.5M464.7 846.5H478.3"/>
<rect class="f" x="458.5" y="858.5" width="26" height="35"/>
<rect class="b" style="fill:#b0b0b0" x="497.5" y="892.5" width="27" height="1"/>
<path class="a" d="M412.5 814.5V893.5H531.5M409.8 814.5H412.5M409.8 840.5H412.5M409.8 867.5H412.5M409.8 893.5H412.5M432.5 893.5V895.5M471.5 893.5V895.5M511.5 893.5V895.5"/>
<text class="t" transform="translate(409.1 817.35) scale(0.91 1)">150</text>
<text class="t" transform="translate(409.1 843.68) scale(0.91 1)">100</text>
<text class="t" transform="translate(409.1 870.02) scale(0.91 1)">50</text>
<text class="t" transform="translate(409.1 896.35) scale(0.91 1)">0</text>
<text class="x" transform="translate(432 902.45) scale(0.955 1)">MA</text>
<text class="x" transform="translate(471.5 902.45) scale(0.955 1)">FA</text>
<text class="x" transform="translate(511.25 902.45) scale(0.955 1)">Bo</text>
<text class="n" transform="translate(471.5 914.3) scale(0.93 1)">OBP26</text>
<text class="y" transform="translate(392.85 856.1) rotate(-90)">Fold change relative to body</text>
<text class="L" transform="translate(432.75 833.75) scale(0.92 1)">a</text>
<text class="L" transform="translate(473.25 842.25) scale(0.92 1)">a</text>
<text class="L" transform="translate(513.25 888.75) scale(1.03 1)">b</text>
</g>
<g>
<path class="e" d="M618.5 830.5V822.5M611.7 822.5H625.3"/>
<rect class="m" x="605.5" y="830.5" width="26" height="63"/>
<path class="e" d="M657.5 836.5V827.5M650.7 827.5H664.3"/>
<rect class="f" x="644.5" y="836.5" width="26" height="57"/>
<rect class="b" x="684.5" y="840.5" width="26" height="53"/>
<path class="a" d="M598.5 814.5V893.5H717.5M595.8 814.5H598.5M595.8 840.5H598.5M595.8 867.5H598.5M595.8 893.5H598.5M618.5 893.5V895.5M657.5 893.5V895.5M697.5 893.5V895.5"/>
<text class="t" transform="translate(595.1 817.35) scale(0.91 1)">1.5</text>
<text class="t" transform="translate(595.1 843.68) scale(0.91 1)">1.0</text>
<text class="t" transform="translate(595.1 870.02) scale(0.91 1)">0.5</text>
<text class="t" transform="translate(595.1 896.35) scale(0.91 1)">0.0</text>
<text class="x" transform="translate(618 902.45) scale(0.955 1)">MA</text>
<text class="x" transform="translate(657.5 902.45) scale(0.955 1)">FA</text>
<text class="x" transform="translate(697.25 902.45) scale(0.955 1)">Bo</text>
<text class="n" transform="translate(657.25 914.3) scale(0.93 1)">OBP27</text>
<text class="y" transform="translate(580.6 856.1) rotate(-90)">Fold change relative to body</text>
<text class="L" transform="translate(618.75 819.25) scale(0.92 1)">a</text>
<text class="L" transform="translate(658.75 823.75) scale(0.92 1)">a</text>
<text class="L" transform="translate(699.25 836.75) scale(0.92 1)">a</text>
</g>
<g>
<path class="e" d="M55.5 957.5V951.5M48.7 951.5H62.3"/>
<rect class="m" x="42.5" y="957.5" width="26" height="47"/>
<path class="e" d="M95.5 952.5V947.5M88.7 947.5H102.3"/>
<rect class="f" x="81.5" y="952.5" width="27" height="52"/>
<rect class="b" x="121.5" y="964.5" width="26" height="40"/>
<path class="a" d="M35.5 924.5V1004.5H158M32.8 924.5H35.5M32.8 944.5H35.5M32.8 964.5H35.5M32.8 984.5H35.5M32.8 1004.5H35.5M55.5 1004.5V1006.5M95.5 1004.5V1006.5M134.5 1004.5V1006.5"/>
<text class="t" transform="translate(32.1 927.35) scale(0.91 1)">2.0</text>
<text class="t" transform="translate(32.1 947.35) scale(0.91 1)">1.5</text>
<text class="t" transform="translate(32.1 967.35) scale(0.91 1)">1.0</text>
<text class="t" transform="translate(32.1 987.35) scale(0.91 1)">0.5</text>
<text class="t" transform="translate(32.1 1007.35) scale(0.91 1)">0.0</text>
<text class="x" transform="translate(55 1013.45) scale(0.955 1)">MA</text>
<text class="x" transform="translate(95 1013.45) scale(0.955 1)">FA</text>
<text class="x" transform="translate(134.5 1013.45) scale(0.955 1)">Bo</text>
<text class="n" transform="translate(94.5 1025.05) scale(0.93 1)">OBP28</text>
<text class="y" transform="translate(17.6 967.1) rotate(-90)">Fold change relative to body</text>
<text class="L" transform="translate(57 947.5) scale(0.92 1)">a</text>
<text class="L" transform="translate(95.75 943.75) scale(0.92 1)">a</text>
<text class="L" transform="translate(136.25 960.5) scale(0.92 1)">a</text>
</g>
</svg></body></html>
